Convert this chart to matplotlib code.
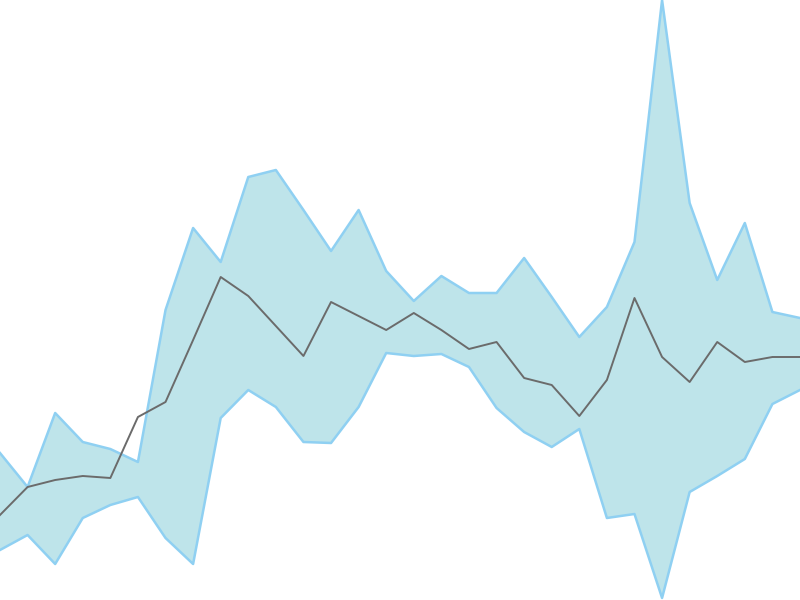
import matplotlib
matplotlib.use("Agg")
import matplotlib.pyplot as plt
import numpy as np

# values (pixel-height scale, 0 = bottom, 600 = top)
x = list(range(30))
mean_px = [515, 487, 480, 476, 478, 417, 402, 340, 277, 296, 326, 356, 302, 316, 330,
           313, 330, 349, 342, 378, 385, 416, 380, 298, 357, 382, 342, 362, 357, 357]
upper_px = [453, 487, 413, 442, 449, 462, 310, 228, 262, 177, 170, 210, 251, 210, 271,
            301, 276, 293, 293, 258, 297, 337, 307, 242, 0, 203, 280, 223, 312, 318]
lower_px = [550, 535, 564, 518, 505, 497, 538, 564, 418, 390, 407, 442, 443, 407, 353,
            356, 354, 367, 408, 432, 447, 429, 518, 514, 598, 492, 476, 459, 404, 390]

mean = [600 - v for v in mean_px]
upper = [600 - v for v in upper_px]
lower = [600 - v for v in lower_px]

fig = plt.figure(figsize=(8, 6), dpi=100)
ax = fig.add_axes([0, 0, 1, 1])
ax.fill_between(x, lower, upper, facecolor="#bee4ea", edgecolor="none")
ax.plot(x, upper, color="#8fd0f2", lw=1.8)
ax.plot(x, lower, color="#8fd0f2", lw=1.8)
ax.plot(x, mean, color="#6b6b6b", lw=1.4)
ax.set_xlim(0, 29)
ax.set_ylim(0, 600)
ax.axis("off")
fig.savefig("out.png", dpi=100)
